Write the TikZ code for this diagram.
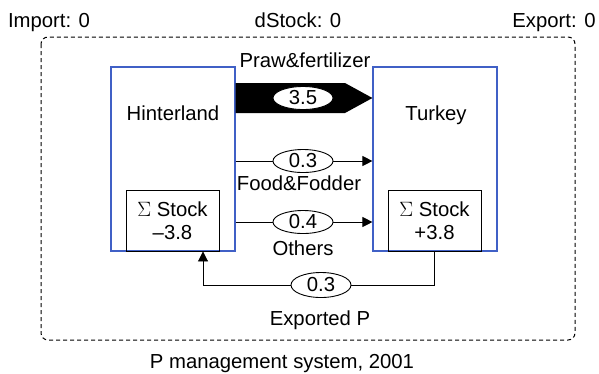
\documentclass[tikz,border=0pt]{standalone}
\usepackage{fontspec}
\setmainfont{Liberation Sans}
\usetikzlibrary{arrows.meta,shapes.geometric}
\definecolor{regionblue}{RGB}{64,96,198}
\newcommand{\sumsign}{{\fontsize{22}{23}\selectfont$\Sigma$}}
\tikzset{
  region/.style={draw=regionblue,line width=1.15pt,minimum width=124pt,minimum height=184pt,inner sep=0pt},
  stockbox/.style={draw,line width=0.9pt,minimum width=93pt,minimum height=61pt,inner sep=0pt,align=center},
  flowval/.style={ellipse,draw,fill=white,line width=0.9pt,minimum width=60pt,minimum height=23pt,inner sep=0pt},
  lbl/.style={anchor=base,inner sep=0pt},
  flow/.style={line width=0.9pt},
  flowarrow/.style={line width=0.9pt,-{Triangle[length=10pt,width=10pt]}}
}
\begin{document}
\begin{tikzpicture}[x=1pt,y=-1pt,font=\fontsize{20.3}{23}\selectfont]
\useasboundingbox (0,0) rectangle (599,373);

% system boundary
\draw[dashed,dash pattern=on 4pt off 3pt,line width=1pt,rounded corners=7pt] (41,37) rectangle (575,340);

% header labels
\node[lbl] (imp) at (49,27) {Import: 0};
\node[lbl] (dst) at (298,27) {dStock: 0};
\node[lbl] (exp) at (554,27) {Export: 0};
\node[lbl] (title) at (282,368) {P management system, 2001};

% regions
\node[region] (hint) at (173,159) {};
\node[region] (turk) at (435,159) {};
\node[lbl] (hintname) at (173,120) {Hinterland};
\node[lbl] (turkname) at (436,120) {Turkey};

% stock boxes
\node[stockbox] (hstock) at (172.5,220.5) {\sumsign{} Stock\\–3.8};
\node[stockbox] (tstock) at (434.5,220.5) {\sumsign{} Stock\\+3.8};

% main flow: raw P and fertilizer
\coordinate (bodyend) at (345,83);
\coordinate (tipy) at (0,98);
\fill (hint.east |- bodyend) -- (bodyend) -- (turk.west |- tipy) -- (345,113) -- (hint.east |- 0,113) -- cycle;
\node[flowval] (praw) at (303,98) {3.5};
\node[lbl] (prawname) at (305,67) {Praw\&fertilizer};

% food and fodder
\node[flowval] (food) at (303,161) {0.3};
\draw[flow] (hint.east |- food) -- (food.west);
\draw[flowarrow] (food.east) -- (turk.west |- food);
\node[lbl] (foodname) at (299,190) {Food\&Fodder};

% others
\node[flowval] (oth) at (303,222) {0.4};
\draw[flow] (hint.east |- oth) -- (oth.west);
\draw[flowarrow] (oth.east) -- (turk.west |- oth);
\node[lbl] (othname) at (303,255) {Others};

% exported P, returned to the hinterland
\node[flowval,minimum height=25pt] (expo) at (321,285) {0.3};
\coordinate (bend) at (203,285);
\draw[flow] (tstock.south) -- (tstock.south |- expo) -- (expo.east);
\draw[flowarrow] (expo.west) -- (bend) -- (bend |- hstock.south);
\node[lbl] (exponame) at (320,325) {Exported P};
\end{tikzpicture}
\end{document}
